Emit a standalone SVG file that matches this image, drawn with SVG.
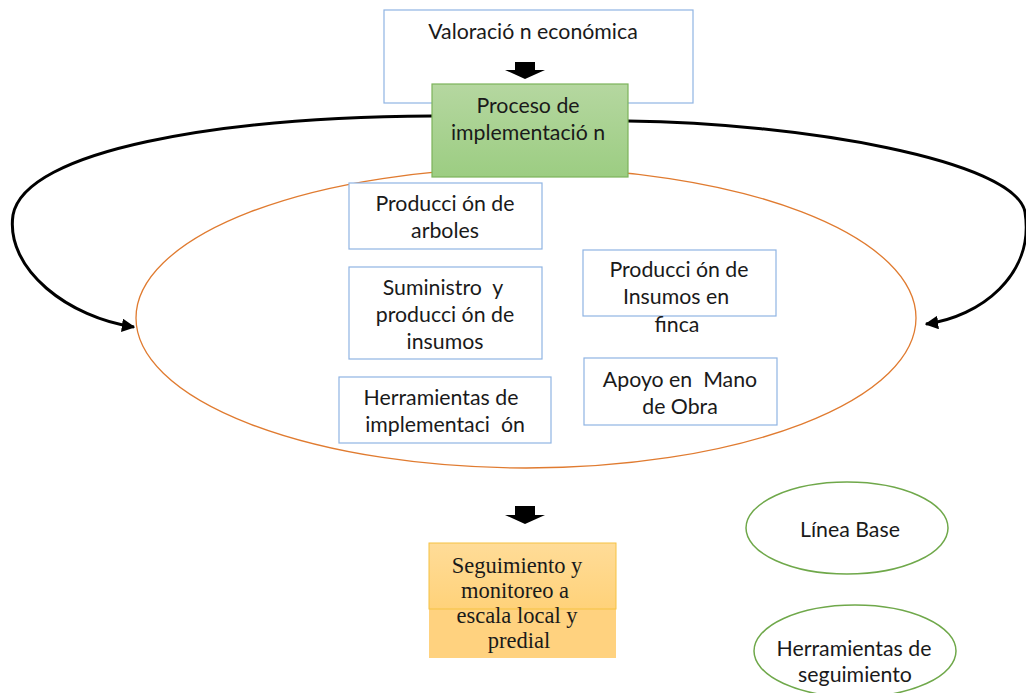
<svg xmlns="http://www.w3.org/2000/svg" width="1026" height="693" viewBox="0 0 1026 693">
<style>
text{white-space:pre}
.t{font-family:Lato,"Liberation Sans",sans-serif;font-size:21.3px;fill:#1a1a1a;text-anchor:middle}
.s{font-family:"Liberation Serif",serif;font-size:22.5px;fill:#1a1a1a;text-anchor:middle}
.bx{fill:#fff;stroke:#8fb4e3;stroke-width:1.2}
.ge{fill:#fff;stroke:#6fa84a;stroke-width:1.5}
.con{fill:none;stroke:#000;stroke-width:3}
</style>
<defs>
<linearGradient id="g" x1="0" y1="0" x2="0" y2="1">
<stop offset="0" stop-color="#b5d7a0"/><stop offset="1" stop-color="#9ccd82"/>
</linearGradient>
<linearGradient id="o" x1="0" y1="0" x2="0" y2="1">
<stop offset="0" stop-color="#ffdc98"/><stop offset="1" stop-color="#ffd27a"/>
</linearGradient>
<marker id="ah" viewBox="0 0 10 10" refX="9" refY="5" markerWidth="4.5" markerHeight="4.5" orient="auto">
<path d="M0,0 L10,5 L0,10 z" fill="#000"/>
</marker>
</defs>
<rect width="1026" height="693" fill="#fff"/>
<g id="valoracion">
<rect class="bx" x="384" y="10" width="309" height="93"/>
<text class="t" x="533" y="39">Valoració n económica</text>
</g>
<g id="ellipse-main">
<ellipse cx="526" cy="318" rx="390" ry="150" fill="none" stroke="#e07b30" stroke-width="1.3"/>
</g>
<g id="connectors">
<path class="con" d="M432,116 C 220,117 25,150 13,215 C 5,270 70,318 134,327" marker-end="url(#ah)"/>
<path class="con" d="M628,121 C 800,123 1015,160 1025,212 C 1035,275 980,317 926,324" marker-end="url(#ah)"/>
<path d="M515,62 H535 V70 H545 L525,79 L505,70 H515 Z" fill="#000"/>
<path d="M515,506 H535 V515 H545 L525,524 L505,515 H515 Z" fill="#000"/>
</g>
<g id="proceso">
<rect x="432" y="84" width="196" height="93" fill="url(#g)" stroke="#7cb35a" stroke-width="1.2"/>
<text class="t" x="528" y="113">Proceso de</text>
<text class="t" x="528" y="140">implementació n</text>
</g>
<g id="produccion-arboles">
<rect class="bx" x="349" y="183" width="193" height="66"/>
<text class="t" x="445" y="211">Producci ón de</text>
<text class="t" x="445" y="238">arboles</text>
</g>
<g id="suministro">
<rect class="bx" x="349" y="267" width="193" height="92"/>
<text class="t" x="443" y="295">Suministro  y</text>
<text class="t" x="445" y="322">producci ón de</text>
<text class="t" x="445" y="349">insumos</text>
</g>
<g id="herramientas-impl">
<rect class="bx" x="339" y="377" width="212" height="66"/>
<text class="t" x="441" y="405">Herramientas de</text>
<text class="t" x="445" y="432">implementaci  ón</text>
</g>
<g id="produccion-insumos">
<rect class="bx" x="583" y="250" width="193" height="66"/>
<text class="t" x="679" y="277">Producci ón de</text>
<text class="t" x="676" y="304">Insumos en</text>
<text class="t" x="677" y="332">finca</text>
</g>
<g id="apoyo">
<rect class="bx" x="584" y="358" width="193" height="67"/>
<text class="t" x="680" y="387">Apoyo en  Mano</text>
<text class="t" x="680" y="414">de Obra</text>
</g>
<g id="seguimiento">
<rect x="429" y="543" width="187" height="115" fill="#ffd27f"/>
<rect x="429" y="543" width="187" height="66" fill="url(#o)" stroke="#f5c242" stroke-width="1"/>
<text class="s" x="517" y="573">Seguimiento y</text>
<text class="s" x="515" y="598">monitoreo a</text>
<text class="s" x="517" y="623">escala local y</text>
<text class="s" x="519" y="648">predial</text>
</g>
<g id="linea-base">
<ellipse class="ge" cx="847" cy="528" rx="101" ry="46"/>
<text class="t" x="850" y="537">Línea Base</text>
</g>
<g id="herramientas-seg">
<ellipse class="ge" cx="855" cy="651" rx="101" ry="46"/>
<text class="t" x="854" y="656">Herramientas de</text>
<text class="t" x="855" y="682">seguimiento</text>
</g>
</svg>
